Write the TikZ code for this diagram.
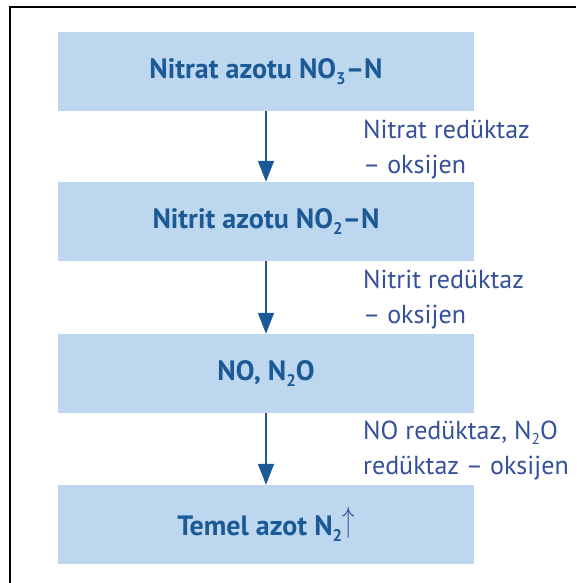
\documentclass[tikz,border=0pt]{standalone}
\usepackage{fontspec}
\setmainfont{PT Sans}
\usetikzlibrary{arrows.meta,positioning}
\definecolor{kutumavi}{HTML}{BDD7EE}
\definecolor{koyumavi}{HTML}{1B5A96}
\definecolor{etiketmavi}{HTML}{34509A}
\newcommand{\indis}[1]{\raisebox{-0.22em}{\scalebox{0.6}{#1}}}
\newcommand{\gazok}{{\color{etiketmavi}\raisebox{0.12em}{\scalebox{1}[1.4]{$\uparrow$}}}}
\tikzset{
  kutu/.style={fill=kutumavi, minimum width=416pt, minimum height=79pt, inner sep=0pt,
    text=koyumavi, font=\fontsize{28}{32}\selectfont\bfseries},
  etiket/.style={text=etiketmavi, font=\fontsize{26}{35}\selectfont, align=left,
    anchor=base west, inner sep=0pt},
  akis/.style={draw=koyumavi, line width=1.6pt, -{Triangle[width=16pt,length=21pt]}}
}

\begin{document}
\begin{tikzpicture}[x=1pt,y=-1pt]
    \useasboundingbox (0,0) rectangle (576,583);
    \draw[line width=2pt] (9.5,583) -- (9.5,7) -- (576,7);
    % kutular
    \node[kutu] (nitrat) at (266,71.5) {Nitrat azotu NO\indis{3}–N};
    \node[kutu] (nitrit) at (266,221.5) {Nitrit azotu NO\indis{2}–N};
    \node[kutu] (oksit) at (266,373.5) {NO, N\indis{2}O};
    \node[kutu] (azot) at (266,524.5) {Temel azot N\indis{2}\gazok};
    % oklar
    \draw[akis] (nitrat) -- (nitrit);
    \draw[akis] (nitrit) -- (oksit);
    \draw[akis] (oksit) -- (azot);
    % enzimler
    \node[etiket] (e1) at (363,173) {Nitrat redüktaz\\– oksijen};
    \node[etiket] (e2) at (363,323) {Nitrit redüktaz\\– oksijen};
    \node[etiket] (e3) at (363,474) {NO redüktaz, N\indis{2}O\\redüktaz – oksijen};
\end{tikzpicture}
\end{document}
